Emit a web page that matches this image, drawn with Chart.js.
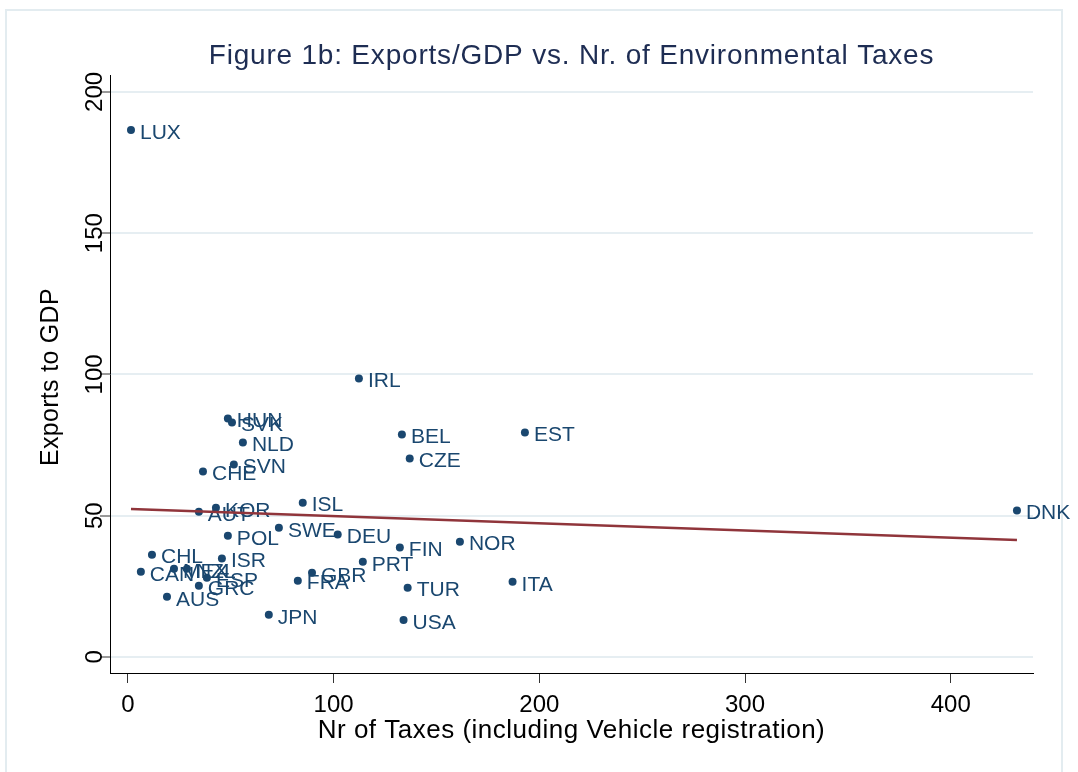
<!DOCTYPE html>
<html>
<head>
<meta charset="utf-8">
<script src="https://cdn.jsdelivr.net/npm/chart.js@4.4.1/dist/chart.umd.min.js"></script>
<style>
  html, body { margin: 0; padding: 0; background: #fff; }
  #wrap { position: relative; width: 1078px; height: 772px; }
</style>
</head>
<body>
<div id="wrap"><canvas id="chart" width="1078" height="772"></canvas></div>
<script>
// country codes and values
const countries = ["LUX", "IRL", "HUN", "SVK", "NLD", "BEL", "EST", "CZE", "SVN", "CHE",
  "ISL", "KOR", "AUT", "DNK", "SWE", "DEU", "POL", "FIN", "NOR", "CHL",
  "ISR", "PRT", "CAN", "MEX", "NZL", "ESP", "GRC", "GBR", "FRA", "AUS",
  "JPN", "TUR", "USA", "ITA"]
const nrTaxes = [1.5, 112.3, 48.6, 50.6, 55.9, 133.2, 193.0, 137.0, 51.5, 36.5,
  85.0, 42.8, 34.5, 432.2, 73.4, 102.0, 48.6, 132.2, 161.4, 11.7,
  45.7, 114.2, 6.3, 22.4, 28.7, 38.4, 34.5, 89.5, 82.6, 19.0,
  68.5, 136.0, 134.0, 187.0]
const exportsGdp = [186.5, 98.6, 84.4, 83.0, 75.9, 78.7, 79.4, 70.2, 68.1, 65.6,
  54.6, 52.8, 51.4, 51.8, 45.7, 43.3, 42.9, 38.7, 40.8, 36.2,
  34.8, 33.7, 30.1, 31.2, 31.2, 28.0, 25.2, 29.8, 27.0, 21.3,
  14.9, 24.5, 13.1, 26.6]

// fitted line end points
const fitX = [1.5, 432.2]
const fitY = [52.4, 41.4]

const xTicks = [0, 100, 200, 300, 400]
const yTicks = [0, 50, 100, 150, 200]

const navy = "#1a476f"
const font = "'Liberation Sans', Arial, sans-serif"

const pointLabels = {
  id: "pointLabels",
  afterDatasetDraw(chart, args) {
    if (args.index !== 0) return
    const ctx = chart.ctx
    ctx.save()
    ctx.fillStyle = navy
    ctx.font = "21px " + font
    ctx.textBaseline = "middle"
    ctx.textAlign = "left"
    args.meta.data.forEach((el, i) => {
      ctx.fillText(countries[i], el.x + 9, el.y + 3)
    })
    ctx.restore()
  }
}

const decorations = {
  id: "decorations",
  beforeDraw(chart) {
    const ctx = chart.ctx
    ctx.save()
    ctx.strokeStyle = "#e3ecf0"
    ctx.lineWidth = 2
    ctx.strokeRect(6, 10, 1056, 780)
    ctx.restore()
  },
  afterDraw(chart) {
    const ctx = chart.ctx
    const y = chart.scales.y
    const area = chart.chartArea
    const midX = (area.left + area.right) / 2
    ctx.save()
    ctx.textAlign = "center"
    ctx.textBaseline = "middle"
    // title
    ctx.fillStyle = "#1e2d53"
    ctx.font = "28px " + font
    ctx.letterSpacing = "0.8px"
    ctx.fillText("Figure 1b: Exports/GDP vs. Nr. of Environmental Taxes", midX, 56)
    // x title
    ctx.fillStyle = "#000"
    ctx.font = "26px " + font
    ctx.letterSpacing = "0.5px"
    ctx.fillText("Nr of Taxes (including Vehicle registration)", midX, 731)
    // y title
    ctx.font = "25px " + font
    ctx.letterSpacing = "0.3px"
    ctx.save()
    ctx.translate(51, (area.top + area.bottom) / 2 + 3)
    ctx.rotate(-Math.PI / 2)
    ctx.fillText("Exports to GDP", 0, 0)
    ctx.restore()
    // rotated y tick labels
    ctx.font = "24px " + font
    ctx.letterSpacing = "0px"
    yTicks.forEach((v) => {
      ctx.save()
      ctx.translate(area.left - 15, y.getPixelForValue(v))
      ctx.rotate(-Math.PI / 2)
      ctx.fillText(String(v), 0, 0)
      ctx.restore()
    })
    ctx.restore()
  }
}

new Chart(document.getElementById("chart"), {
  data: {
    datasets: [
      {
        type: "scatter",
        order: 1,
        data: nrTaxes.map((x, i) => ({ x: x, y: exportsGdp[i] })),
        backgroundColor: navy,
        borderColor: navy,
        pointRadius: 4,
        pointHoverRadius: 4,
        borderWidth: 0,
      },
      {
        type: "line",
        order: 0,
        data: fitX.map((x, i) => ({ x: x, y: fitY[i] })),
        borderColor: "#90353b",
        borderWidth: 2.5,
        pointRadius: 0,
        fill: false,
      },
    ],
  },
  options: {
    responsive: false,
    animation: false,
    events: [],
    layout: { padding: { left: 30, right: 45, top: 75, bottom: 20 } },
    plugins: {
      legend: { display: false },
      tooltip: { enabled: false },
      title: { display: false },
    },
    scales: {
      x: {
        type: "linear",
        min: -8.7,
        max: 440,
        afterBuildTicks: (scale) => { scale.ticks = xTicks.map((v) => ({ value: v })) },
        afterFit: (scale) => { scale.height = 79 },
        border: { color: "#000", width: 1 },
        grid: { drawOnChartArea: false, drawTicks: true, tickLength: 10, tickColor: "#333", tickWidth: 1 },
        ticks: { color: "#000", font: { size: 24, family: font }, padding: 8, maxRotation: 0 },
      },
      y: {
        type: "linear",
        min: -5.7,
        max: 206,
        afterBuildTicks: (scale) => { scale.ticks = yTicks.map((v) => ({ value: v })) },
        afterFit: (scale) => { scale.width = 80 },
        border: { color: "#000", width: 1 },
        grid: { color: "#e6eef2", lineWidth: 2, drawTicks: true, tickLength: 10, tickColor: "#333", tickWidth: 1 },
        ticks: { display: false },
      },
    },
  },
  plugins: [pointLabels, decorations],
})
</script>
</body>
</html>
